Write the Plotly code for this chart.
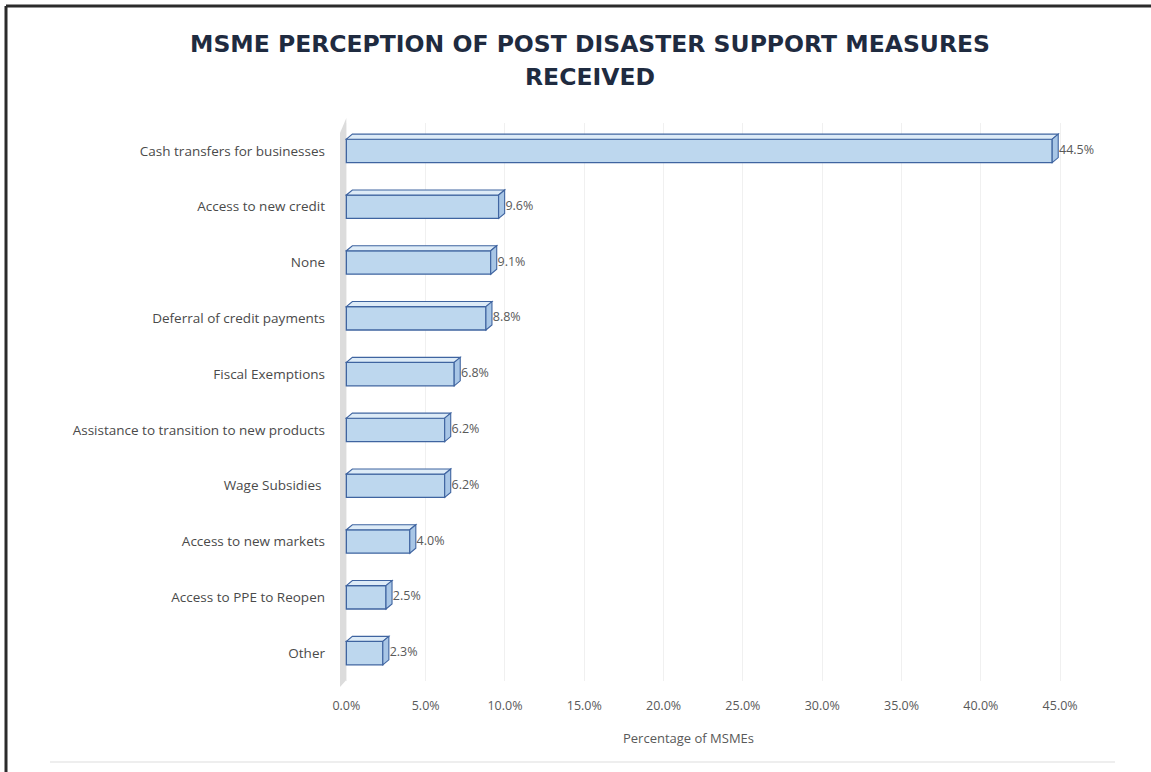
import plotly.graph_objects as go

categories = [
    "Cash transfers for businesses",
    "Access to new credit",
    "None",
    "Deferral of credit payments",
    "Fiscal Exemptions",
    "Assistance to transition to new products",
    "Wage Subsidies ",
    "Access to new markets",
    "Access to PPE to Reopen",
    "Other",
]
values = [44.5, 9.6, 9.1, 8.8, 6.8, 6.2, 6.2, 4.0, 2.5, 2.3]
tick_vals = [0, 5, 10, 15, 20, 25, 30, 35, 40, 45]
tick_text = ["0.0%", "5.0%", "10.0%", "15.0%", "20.0%", "25.0%", "30.0%", "35.0%", "40.0%", "45.0%"]
labels = [f"{v:.1f}%" for v in values]

title_line1 = "MSME PERCEPTION OF POST DISASTER SUPPORT MEASURES"
title_line2 = "RECEIVED"
x_title = "Percentage of MSMEs"

# geometry (pixels -> paper helpers)
W, H = 1151, 772
L, R, T, B = 340, 75, 123, 91
PW, PH = W - L - R, H - T - B

def px(xpix):
    return (xpix - L) / PW

def py(ypix):
    return (H - B - ypix) / PH

FRONT = "#BDD7EE"
TOP = "#DDEBF7"
SIDE = "#A8C6E6"
EDGE = "#3F64A0"
TXT = "#595959"

bar_w = 0.42
dx = 0.38   # depth in x units
dy = 0.09   # depth in category units (upwards = negative with reversed axis)

fig = go.Figure()

fig.add_trace(go.Bar(
    y=list(range(len(categories))),
    x=values,
    orientation="h",
    width=bar_w,
    marker=dict(color=FRONT, line=dict(color=EDGE, width=1.3)),
    hoverinfo="skip",
    showlegend=False,
))

shapes = []
# back wall strip
shapes.append(dict(type="path", xref="x", yref="paper",
                   path=f"M -0.45 {py(688)} L -0.45 {py(135)} L 0 {py(118)} L 0 {py(680)} Z",
                   fillcolor="#DCDCDC", line=dict(width=0), layer="below"))

for i, v in enumerate(values):
    top = i - bar_w / 2
    bot = i + bar_w / 2
    shapes.append(dict(type="path", xref="x", yref="y",
                       path=f"M 0 {top} L {dx} {top - dy} L {v + dx} {top - dy} L {v} {top} Z",
                       fillcolor=TOP, line=dict(color=EDGE, width=1.1)))
    shapes.append(dict(type="path", xref="x", yref="y",
                       path=f"M {v} {top} L {v + dx} {top - dy} L {v + dx} {bot - dy} L {v} {bot} Z",
                       fillcolor=SIDE, line=dict(color=EDGE, width=1.1)))

fig.add_trace(go.Scatter(
    y=list(range(len(categories))),
    x=[v + dx + 0.05 for v in values],
    mode="text",
    text=labels,
    textposition="middle right",
    textfont=dict(family="Open Sans", size=12.5, color=TXT),
    cliponaxis=False,
    hoverinfo="skip",
    showlegend=False,
))

# frame lines
shapes.append(dict(type="line", xref="paper", yref="paper",
                   x0=px(6), x1=px(1160), y0=py(6), y1=py(6),
                   line=dict(color="#2B2B2B", width=3)))
shapes.append(dict(type="line", xref="paper", yref="paper",
                   x0=px(6), x1=px(6), y0=py(6), y1=py(780),
                   line=dict(color="#2B2B2B", width=3)))
shapes.append(dict(type="line", xref="paper", yref="paper",
                   x0=px(50), x1=px(1115), y0=py(762), y1=py(762),
                   line=dict(color="#EEEEEE", width=2)))

title_font = dict(family="DejaVu Sans", size=23.5, color="#1F2B40", weight="bold")
annotations = [
    dict(text=title_line1, xref="paper", yref="paper", x=px(590), y=py(44),
         showarrow=False, xanchor="center", yanchor="middle", font=title_font),
    dict(text=title_line2, xref="paper", yref="paper", x=px(590), y=py(77),
         showarrow=False, xanchor="center", yanchor="middle", font=title_font),
    dict(text=x_title, xref="paper", yref="paper", x=px(688), y=py(738),
         showarrow=False, xanchor="center", yanchor="middle",
         font=dict(family="Open Sans", size=13, color=TXT)),
]

fig.update_layout(
    width=W, height=H,
    margin=dict(l=L, r=R, t=T, b=B, pad=0),
    paper_bgcolor="white",
    plot_bgcolor="white",
    shapes=shapes,
    annotations=annotations,
    showlegend=False,
    xaxis=dict(
        range=[-0.4, 46],
        tickvals=tick_vals,
        ticktext=tick_text,
        showgrid=True,
        gridcolor="#F0F0F0",
        gridwidth=1,
        zeroline=False,
        showline=False,
        ticks="",
        ticklabelstandoff=15,
        tickfont=dict(family="Open Sans", size=12.5, color=TXT),
        fixedrange=True,
    ),
    yaxis=dict(
        tickvals=list(range(len(categories))),
        ticktext=categories,
        range=[len(categories) - 0.5, -0.5],
        showgrid=False,
        zeroline=False,
        showline=False,
        ticks="",
        ticklabelstandoff=14,
        tickfont=dict(family="Open Sans", size=13.5, color="#4A4A4A"),
        fixedrange=True,
    ),
)

fig.write_html("out.html", config={"displayModeBar": False},
               post_script="document.body.style.margin='0';")
